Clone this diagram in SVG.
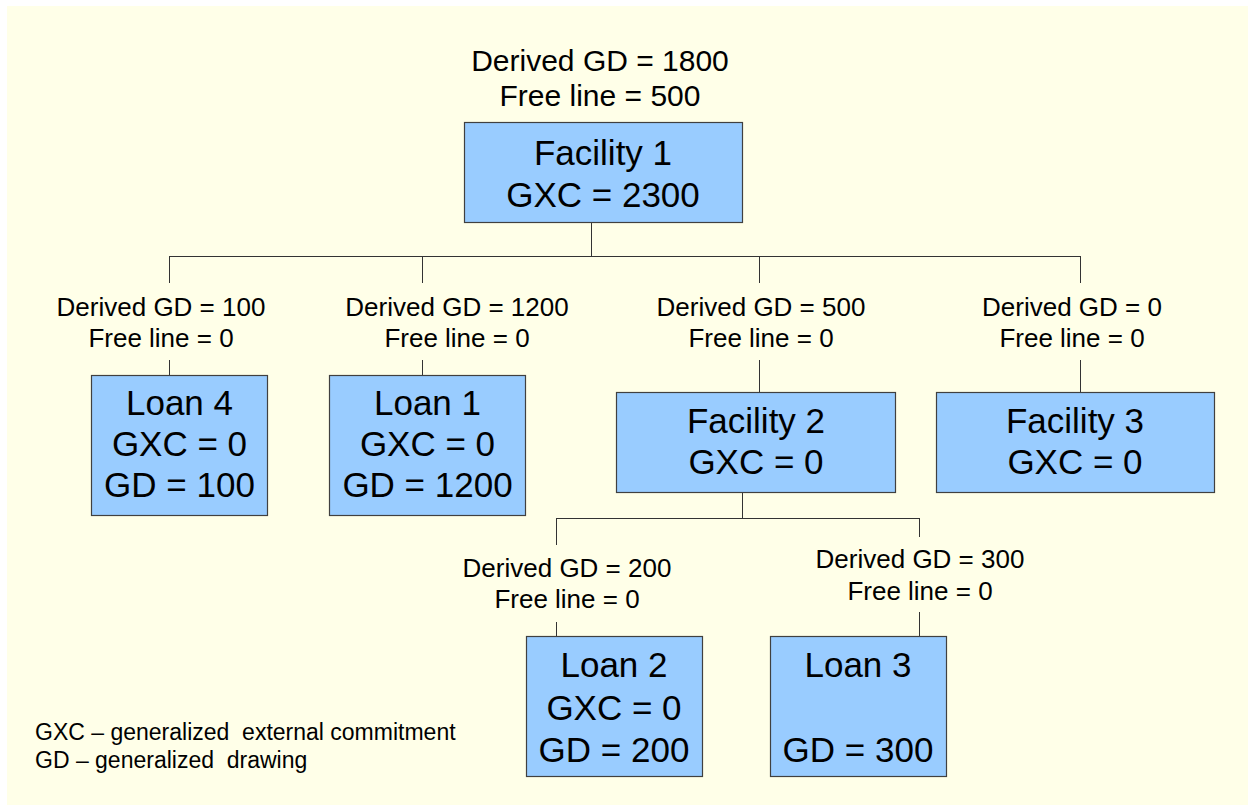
<svg xmlns="http://www.w3.org/2000/svg" width="1248" height="806" viewBox="0 0 1248 806">
<style>
.bg{fill:#FFFFE8}
.box{fill:#99CCFF;stroke:#404040;stroke-width:1.2}
.ln{fill:none;stroke:#333333;stroke-width:1}
text{font-family:"Liberation Sans",Arial,sans-serif;fill:#000;text-anchor:middle}
.n{font-size:35px}
.l{font-size:26px}
.t{font-size:30px}
.g{font-size:23px;text-anchor:start}
</style>
<rect class="bg" x="7" y="6" width="1241" height="799"/>
<g id="connectors">
<path class="ln" d="M591.5 223V256.5M169.5 256.5H1080.5M169.5 256V283M422.5 256V283M759.5 256V283M1080.5 256V283"/>
<path class="ln" d="M169.5 360V375M422.5 360V375M759.5 360V392M1080.5 360V392"/>
<path class="ln" d="M742.5 493V518.5M556.5 518.5H919.5M556.5 518V545M919.5 518V537M556.5 622V636M919.5 612V636"/>
</g>
<g id="label-top">
<text class="t" x="600" y="71">Derived GD = 1800</text>
<text class="t" x="600" y="106">Free line = 500</text>
</g>
<g id="facility1">
<rect class="box" x="464.5" y="122.5" width="278" height="100"/>
<text class="n" x="603" y="165">Facility 1</text>
<text class="n" x="603" y="207">GXC = 2300</text>
</g>
<g id="label-loan4">
<text class="l" x="161" y="316">Derived GD = 100</text>
<text class="l" x="161" y="347">Free line = 0</text>
</g>
<g id="loan4">
<rect class="box" x="91.5" y="375.5" width="176" height="140"/>
<text class="n" x="179.5" y="415">Loan 4</text>
<text class="n" x="179.5" y="456">GXC = 0</text>
<text class="n" x="179.5" y="497">GD = 100</text>
</g>
<g id="label-loan1">
<text class="l" x="457" y="316">Derived GD = 1200</text>
<text class="l" x="457" y="347">Free line = 0</text>
</g>
<g id="loan1">
<rect class="box" x="329.5" y="375.5" width="196" height="140"/>
<text class="n" x="427.5" y="415">Loan 1</text>
<text class="n" x="427.5" y="456">GXC = 0</text>
<text class="n" x="427.5" y="497">GD = 1200</text>
</g>
<g id="label-facility2">
<text class="l" x="761" y="316">Derived GD = 500</text>
<text class="l" x="761" y="347">Free line = 0</text>
</g>
<g id="facility2">
<rect class="box" x="616.5" y="392.5" width="279" height="100"/>
<text class="n" x="756" y="433">Facility 2</text>
<text class="n" x="756" y="474">GXC = 0</text>
</g>
<g id="label-facility3">
<text class="l" x="1072" y="316">Derived GD = 0</text>
<text class="l" x="1072" y="347">Free line = 0</text>
</g>
<g id="facility3">
<rect class="box" x="936.5" y="392.5" width="278" height="100"/>
<text class="n" x="1075" y="433">Facility 3</text>
<text class="n" x="1075" y="474">GXC = 0</text>
</g>
<g id="label-loan2">
<text class="l" x="567" y="577">Derived GD = 200</text>
<text class="l" x="567" y="608">Free line = 0</text>
</g>
<g id="loan2">
<rect class="box" x="526.5" y="636.5" width="176" height="140"/>
<text class="n" x="614" y="677">Loan 2</text>
<text class="n" x="614" y="720">GXC = 0</text>
<text class="n" x="614" y="762">GD = 200</text>
</g>
<g id="label-loan3">
<text class="l" x="920" y="568">Derived GD = 300</text>
<text class="l" x="920" y="600">Free line = 0</text>
</g>
<g id="loan3">
<rect class="box" x="770.5" y="636.5" width="176" height="140"/>
<text class="n" x="858" y="677">Loan 3</text>
<text class="n" x="858" y="762">GD = 300</text>
</g>
<g id="legend">
<text class="g" x="35" y="740" xml:space="preserve">GXC – generalized  external commitment</text>
<text class="g" x="35" y="768" xml:space="preserve">GD – generalized  drawing</text>
</g>
</svg>
